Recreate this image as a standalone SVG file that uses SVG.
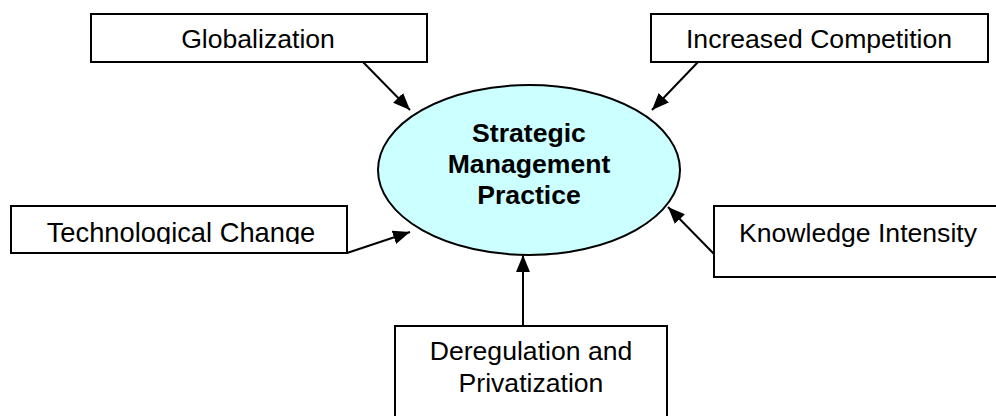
<svg xmlns="http://www.w3.org/2000/svg" width="996" height="416" viewBox="0 0 996 416">
<style>
.box{fill:#fff;stroke:#000;stroke-width:2}
.t{font-family:"Liberation Sans",Arial,sans-serif;font-size:26.6px;fill:#000;text-anchor:middle}
.b{font-weight:bold}
.c{stroke:#000;stroke-width:2;fill:none}
</style>
<defs>
<marker id="ah" markerUnits="userSpaceOnUse" markerWidth="18" markerHeight="14" refX="17" refY="7" orient="auto">
<path d="M0,0 L17,7 L0,14 Z" fill="#000"/>
</marker>
<clipPath id="clipTech"><rect x="12" y="207" width="335" height="37"/></clipPath>
</defs>
<g id="connectors">
<line class="c" x1="363" y1="62" x2="410" y2="110" marker-end="url(#ah)"/>
<line class="c" x1="698" y1="62" x2="652" y2="110" marker-end="url(#ah)"/>
<line class="c" x1="347" y1="253" x2="410" y2="232" marker-end="url(#ah)"/>
<line class="c" x1="714" y1="254" x2="668" y2="207" marker-end="url(#ah)"/>
<line class="c" x1="523" y1="326" x2="523" y2="255" marker-end="url(#ah)"/>
</g>
<g id="center">
<ellipse cx="529" cy="170" rx="151" ry="85" fill="#CCFFFF" stroke="#000" stroke-width="2"/>
<text class="t b" x="529" y="142">Strategic</text>
<text class="t b" x="529" y="173">Management</text>
<text class="t b" x="529" y="204">Practice</text>
</g>
<g id="globalization">
<rect class="box" x="91" y="14" width="336" height="48"/>
<text class="t" x="258" y="48">Globalization</text>
</g>
<g id="competition">
<rect class="box" x="651" y="14" width="337" height="48"/>
<text class="t" x="819" y="48">Increased Competition</text>
</g>
<g id="technology">
<rect class="box" x="11" y="206" width="336" height="47"/>
<text class="t" x="181" y="242" style="font-size:27.3px" clip-path="url(#clipTech)">Technological Change</text>
</g>
<g id="knowledge">
<rect class="box" x="714" y="206" width="290" height="71"/>
<text class="t" x="858" y="242">Knowledge Intensity</text>
</g>
<g id="deregulation">
<rect class="box" x="395" y="326" width="272" height="100"/>
<text class="t" x="531" y="360">Deregulation and</text>
<text class="t" x="531" y="392">Privatization</text>
</g>
</svg>
